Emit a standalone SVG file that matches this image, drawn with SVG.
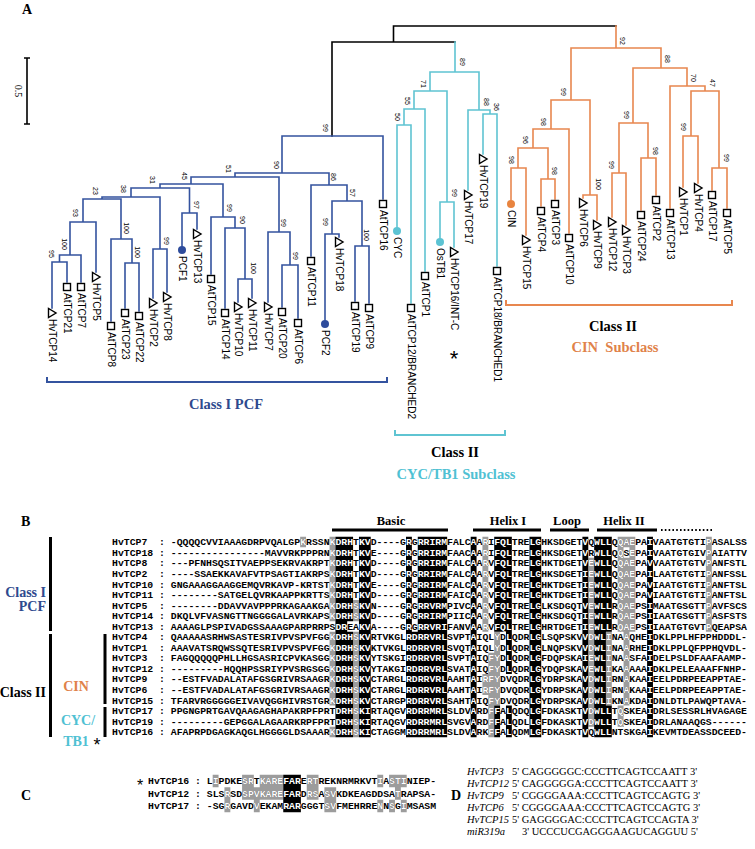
<svg xmlns="http://www.w3.org/2000/svg" width="755" height="849" viewBox="0 0 755 849">
<style>
.lf{font-family:"Liberation Sans",Arial,sans-serif;font-size:10px;fill:#000}
.bs{font-family:"Liberation Sans",Arial,sans-serif;font-size:7px;fill:#000;text-anchor:middle}
.pl{font-family:"Liberation Serif","Times New Roman",serif;font-weight:bold;font-size:14px;fill:#000}
.cl{font-family:"Liberation Serif","Times New Roman",serif;font-weight:bold;font-size:14.5px;text-anchor:middle}
.lb{font-family:"Liberation Serif","Times New Roman",serif;font-weight:bold;font-size:14px}
.seq{font-family:"Liberation Mono","Courier New",monospace;font-size:9.8px;font-weight:bold}
.hd{font-family:"Liberation Serif","Times New Roman",serif;font-weight:bold;font-size:12.5px;text-anchor:middle;fill:#000}
.dn{font-family:"Liberation Serif","Times New Roman",serif;font-style:italic;font-size:10.5px;fill:#000}
.ds{font-family:"Liberation Serif","Times New Roman",serif;font-size:10.5px;fill:#000}
.ast{font-family:"Liberation Sans",Arial,sans-serif;text-anchor:middle;fill:#000}
.bl{fill:none;stroke:#34539f;stroke-width:1.6;stroke-linecap:square}
.cy{fill:none;stroke:#5fc4d2;stroke-width:1.6;stroke-linecap:square}
.or{fill:none;stroke:#e8874f;stroke-width:1.6;stroke-linecap:square}
.bk{fill:none;stroke:#000;stroke-width:1.6;stroke-linecap:square}
.mk{fill:#fff;stroke:#000;stroke-width:1.4}
.blue{fill:#2e4c9c}.cyan{fill:#5cc3d3}.orng{fill:#e8843f}
</style>
<defs>
<polygon id="tri" points="-3.5,-4.5 -3.5,4.5 4,0"/>
<rect id="sq" x="-3.5" y="-3.5" width="7" height="7"/>
<clipPath id="cb">
<rect x="335.44" y="536.73" width="17.64" height="84.4"/>
<rect x="335.44" y="621.13" width="11.76" height="10.55"/>
<rect x="335.44" y="631.68" width="17.64" height="105.5"/>
<rect x="358.96" y="536.73" width="11.76" height="200.45"/>
<rect x="406" y="536.73" width="5.88" height="200.45"/>
<rect x="411.88" y="631.68" width="5.88" height="105.5"/>
<rect x="417.76" y="536.73" width="29.4" height="200.45"/>
<rect x="470.68" y="536.73" width="5.88" height="200.45"/>
<rect x="494.2" y="536.73" width="17.64" height="94.95"/>
<rect x="505.96" y="631.68" width="5.88" height="42.2"/>
<rect x="494.2" y="705.53" width="5.88" height="31.65"/>
<rect x="505.96" y="705.53" width="5.88" height="31.65"/>
<rect x="529.48" y="536.73" width="11.76" height="200.45"/>
<rect x="582.4" y="536.73" width="5.88" height="200.45"/>
<rect x="594.16" y="536.73" width="11.76" height="200.45"/>
<rect x="605.92" y="536.73" width="5.88" height="94.95"/>
<rect x="605.92" y="705.53" width="5.88" height="31.65"/>
<rect x="647.08" y="536.73" width="5.88" height="200.45"/>
<rect x="283.24" y="774.75" width="17.64" height="37.5"/>
</clipPath>
<clipPath id="cg">
<rect x="329.56" y="536.73" width="5.88" height="84.4"/>
<rect x="329.56" y="631.68" width="5.88" height="73.85"/>
<rect x="329.56" y="726.63" width="5.88" height="10.55"/>
<rect x="353.08" y="600.03" width="5.88" height="21.1"/>
<rect x="353.08" y="631.68" width="5.88" height="105.5"/>
<rect x="482.44" y="536.73" width="5.88" height="94.95"/>
<rect x="482.44" y="673.88" width="5.88" height="21.1"/>
<rect x="488.32" y="652.78" width="5.88" height="84.4"/>
<rect x="494.2" y="631.68" width="5.88" height="73.85"/>
<rect x="588.28" y="557.83" width="5.88" height="168.8"/>
<rect x="605.92" y="631.68" width="5.88" height="73.85"/>
<rect x="617.68" y="536.73" width="5.88" height="94.95"/>
<rect x="617.68" y="705.53" width="5.88" height="21.1"/>
<rect x="623.56" y="536.73" width="5.88" height="10.55"/>
<rect x="623.56" y="557.83" width="5.88" height="147.7"/>
<rect x="629.44" y="536.73" width="5.88" height="94.95"/>
<rect x="705.88" y="536.73" width="5.88" height="94.95"/>
<rect x="300.16" y="536.73" width="5.88" height="10.55"/>
<rect x="212.68" y="774.75" width="5.88" height="12.5"/>
<rect x="224.44" y="787.25" width="5.88" height="25"/>
<rect x="242.08" y="774.75" width="11.76" height="25"/>
<rect x="253.84" y="787.25" width="5.88" height="25"/>
<rect x="259.72" y="774.75" width="23.52" height="25"/>
<rect x="306.76" y="774.75" width="11.76" height="25"/>
<rect x="324.4" y="787.25" width="11.76" height="25"/>
<rect x="377.32" y="774.75" width="5.88" height="12.5"/>
<rect x="377.32" y="799.75" width="5.88" height="12.5"/>
<rect x="389.08" y="774.75" width="17.64" height="12.5"/>
<rect x="394.96" y="787.25" width="5.88" height="12.5"/>
<rect x="389.08" y="799.75" width="5.88" height="12.5"/>
<rect x="400.84" y="799.75" width="5.88" height="12.5"/>
</clipPath>
</defs>
<rect width="755" height="849" fill="#fff"/>

<!-- Panel A -->
<text class="pl" x="22" y="14" font-size="13">A</text>
<g id="scalebar">
<path d="M27 58V124 M24 58H30 M24 124H30" stroke="#000" stroke-width="1.6" fill="none"/>
<text transform="translate(18 91) rotate(90)" dy="3.5" text-anchor="middle" font-family="Liberation Serif, serif" font-size="10">0.5</text>
</g>

<g id="connectors">
<path class="bk" d="M332 136V42 M332 42H455 M393.5 42V26 M393.5 26H616"/>
<path class="bl" d="M282 136H383 M235 173H329 M191 177H279 M160 184H223 M131 188H189.5 M102 197H160 M83 199H121 M70 222H96 M59.5 255H81 M52 262H67 M111 239H132 M125 263H139 M153 249H167 M182 213H197 M211 217H235 M225 228H245 M238 279H252 M268 232H290 M282 265H298 M311 185H347 M332 201H362 M325 234H339 M355 246H369
M282 136V173 M383 136V199 M235 173V177 M329 173V185 M191 177V184 M279 177V232 M160 184V188 M223 184V217 M131 188V197 M189.5 188V213 M102 197V199 M160 197V249 M83 199V222 M121 199V239 M70 222V255 M96 222V272 M59.5 255V262 M81 255V282 M52 262V308 M67 262V282 M111 239V321 M132 239V263 M125 263V308 M139 263V311 M153 249V298 M167 249V292 M182 213V246 M197 213V229 M211 217V274 M235 217V228 M225 228V308 M245 228V279 M238 279V302 M252 279V298 M268 232V302 M290 232V265 M282 265V307 M298 265V318 M311 185V256 M347 185V201 M332 201V234 M362 201V246 M325 234V320 M339 234V237 M355 246V301 M369 246V303"/>
<path class="cy" d="M455 42V72 M430 72H479 M430 72V91 M414 91H447 M414 91V109 M404 109H425 M404 109V125 M397 125H411 M397 125V227 M411 125V303 M425 109V271 M447 91V202 M440 202H454 M440 202V238 M454 202V247 M479 72V110 M468 110H490 M468 110V190 M490 110V114 M483 114H497 M483 114V154 M497 114V266"/>
<path class="or" d="M616 26V48 M571 48H661 M571 48V100 M551 100H590 M551 100V129 M533 129H569 M533 129V148 M518 148H548 M518 148V168 M511 168H526 M511 168V200 M526 168V235 M548 148V179 M541 179H555 M541 179V206 M555 179V199 M569 129V233 M590 100V195 M583 195H597 M583 195V198 M597 195V220 M661 48V68 M633 68H687 M633 68V123 M619 123H648 M619 123V173 M612 173H626 M612 173V217 M626 173V225 M648 123V158 M641 158H656 M641 158V210 M656 158V195 M687 68V86 M670 86H705 M670 86V208 M705 86V91 M691 91H719 M691 91V136 M683 136H698 M683 136V187 M698 136V183 M719 91V168 M712 168H727 M712 168V190 M727 168V208"/>
</g>

<g id="bootstrap">
<text class="bs" dy="2.5" transform="translate(325 128) rotate(90)">99</text>
<text class="bs" dy="2.5" transform="translate(276 165) rotate(90)">90</text>
<text class="bs" dy="2.5" transform="translate(228 169) rotate(90)">51</text>
<text class="bs" dy="2.5" transform="translate(184 176) rotate(90)">45</text>
<text class="bs" dy="2.5" transform="translate(152 180) rotate(90)">31</text>
<text class="bs" dy="2.5" transform="translate(123 189) rotate(90)">38</text>
<text class="bs" dy="2.5" transform="translate(95 191) rotate(90)">23</text>
<text class="bs" dy="2.5" transform="translate(75 213) rotate(90)">93</text>
<text class="bs" dy="2.5" transform="translate(64 244) rotate(90)">100</text>
<text class="bs" dy="2.5" transform="translate(51 254) rotate(90)">95</text>
<text class="bs" dy="2.5" transform="translate(126 228) rotate(90)">100</text>
<text class="bs" dy="2.5" transform="translate(137 252) rotate(90)">100</text>
<text class="bs" dy="2.5" transform="translate(166 241) rotate(90)">99</text>
<text class="bs" dy="2.5" transform="translate(196 205) rotate(90)">97</text>
<text class="bs" dy="2.5" transform="translate(229 208) rotate(90)">99</text>
<text class="bs" dy="2.5" transform="translate(242 220) rotate(90)">90</text>
<text class="bs" dy="2.5" transform="translate(253 268) rotate(90)">100</text>
<text class="bs" dy="2.5" transform="translate(283 223) rotate(90)">99</text>
<text class="bs" dy="2.5" transform="translate(295 256) rotate(90)">99</text>
<text class="bs" dy="2.5" transform="translate(333 177) rotate(90)">86</text>
<text class="bs" dy="2.5" transform="translate(352 193) rotate(90)">57</text>
<text class="bs" dy="2.5" transform="translate(325 222) rotate(90)">99</text>
<text class="bs" dy="2.5" transform="translate(366 235) rotate(90)">100</text>
<text class="bs" dy="2.5" transform="translate(462 62) rotate(90)">89</text>
<text class="bs" dy="2.5" transform="translate(423 84) rotate(90)">71</text>
<text class="bs" dy="2.5" transform="translate(407 101) rotate(90)">55</text>
<text class="bs" dy="2.5" transform="translate(397 117) rotate(90)">50</text>
<text class="bs" dy="2.5" transform="translate(454 193) rotate(90)">99</text>
<text class="bs" dy="2.5" transform="translate(486 102) rotate(90)">88</text>
<text class="bs" dy="2.5" transform="translate(496 107) rotate(90)">36</text>
<text class="bs" dy="2.5" transform="translate(622 41) rotate(90)">92</text>
<text class="bs" dy="2.5" transform="translate(563 92) rotate(90)">99</text>
<text class="bs" dy="2.5" transform="translate(543 122) rotate(90)">98</text>
<text class="bs" dy="2.5" transform="translate(525 140) rotate(90)">96</text>
<text class="bs" dy="2.5" transform="translate(511 160) rotate(90)">98</text>
<text class="bs" dy="2.5" transform="translate(554 171) rotate(90)">98</text>
<text class="bs" dy="2.5" transform="translate(598 184) rotate(90)">100</text>
<text class="bs" dy="2.5" transform="translate(667 59) rotate(90)">88</text>
<text class="bs" dy="2.5" transform="translate(626 115) rotate(90)">99</text>
<text class="bs" dy="2.5" transform="translate(611 165) rotate(90)">99</text>
<text class="bs" dy="2.5" transform="translate(655 151) rotate(90)">98</text>
<text class="bs" dy="2.5" transform="translate(693 78) rotate(90)">70</text>
<text class="bs" dy="2.5" transform="translate(712 83) rotate(90)">47</text>
<text class="bs" dy="2.5" transform="translate(683 127) rotate(90)">99</text>
<text class="bs" dy="2.5" transform="translate(726 158) rotate(90)">99</text>
</g>

<g id="leaves">
<g id="n-HvTCP14"><use href="#tri" class="mk" x="52" y="313"/><text class="lf" dy="3.5" transform="translate(52 319) rotate(90)">HvTCP14</text></g>
<g id="n-AtTCP21"><use href="#sq" class="mk" x="67" y="287"/><text class="lf" dy="3.5" transform="translate(67 293) rotate(90)">AtTCP21</text></g>
<g id="n-AtTCP7"><use href="#sq" class="mk" x="81" y="287"/><text class="lf" dy="3.5" transform="translate(81 293) rotate(90)">AtTCP7</text></g>
<g id="n-HvTCP5"><use href="#tri" class="mk" x="96" y="277"/><text class="lf" dy="3.5" transform="translate(96 283) rotate(90)">HvTCP5</text></g>
<g id="n-AtTCP8"><use href="#sq" class="mk" x="111" y="326"/><text class="lf" dy="3.5" transform="translate(111 332) rotate(90)">AtTCP8</text></g>
<g id="n-AtTCP23"><use href="#sq" class="mk" x="125" y="313"/><text class="lf" dy="3.5" transform="translate(125 319) rotate(90)">AtTCP23</text></g>
<g id="n-AtTCP22"><use href="#sq" class="mk" x="139" y="316"/><text class="lf" dy="3.5" transform="translate(139 322) rotate(90)">AtTCP22</text></g>
<g id="n-HvTCP2"><use href="#tri" class="mk" x="153" y="303"/><text class="lf" dy="3.5" transform="translate(153 309) rotate(90)">HvTCP2</text></g>
<g id="n-HvTCP8"><use href="#tri" class="mk" x="167" y="297"/><text class="lf" dy="3.5" transform="translate(167 303) rotate(90)">HvTCP8</text></g>
<g id="n-PCF1"><circle class="blue" cx="182" cy="250" r="4"/><text class="lf" dy="3.5" transform="translate(182 256) rotate(90)">PCF1</text></g>
<g id="n-HvTCP13"><use href="#tri" class="mk" x="197" y="234"/><text class="lf" dy="3.5" transform="translate(197 240) rotate(90)">HvTCP13</text></g>
<g id="n-AtTCP15"><use href="#sq" class="mk" x="211" y="279"/><text class="lf" dy="3.5" transform="translate(211 285) rotate(90)">AtTCP15</text></g>
<g id="n-AtTCP14"><use href="#sq" class="mk" x="225" y="313"/><text class="lf" dy="3.5" transform="translate(225 319) rotate(90)">AtTCP14</text></g>
<g id="n-HvTCP10"><use href="#tri" class="mk" x="238" y="307"/><text class="lf" dy="3.5" transform="translate(238 313) rotate(90)">HvTCP10</text></g>
<g id="n-HvTCP11"><use href="#tri" class="mk" x="252" y="303"/><text class="lf" dy="3.5" transform="translate(252 309) rotate(90)">HvTCP11</text></g>
<g id="n-HvTCP7"><use href="#tri" class="mk" x="268" y="307"/><text class="lf" dy="3.5" transform="translate(268 313) rotate(90)">HvTCP7</text></g>
<g id="n-AtTCP20"><use href="#sq" class="mk" x="282" y="312"/><text class="lf" dy="3.5" transform="translate(282 318) rotate(90)">AtTCP20</text></g>
<g id="n-AtTCP6"><use href="#sq" class="mk" x="298" y="323"/><text class="lf" dy="3.5" transform="translate(298 329) rotate(90)">AtTCP6</text></g>
<g id="n-AtTCP11"><use href="#sq" class="mk" x="311" y="261"/><text class="lf" dy="3.5" transform="translate(311 267) rotate(90)">AtTCP11</text></g>
<g id="n-PCF2"><circle class="blue" cx="325" cy="324" r="4"/><text class="lf" dy="3.5" transform="translate(325 330) rotate(90)">PCF2</text></g>
<g id="n-HvTCP18"><use href="#tri" class="mk" x="339" y="242"/><text class="lf" dy="3.5" transform="translate(339 248) rotate(90)">HvTCP18</text></g>
<g id="n-AtTCP19"><use href="#sq" class="mk" x="355" y="306"/><text class="lf" dy="3.5" transform="translate(355 312) rotate(90)">AtTCP19</text></g>
<g id="n-AtTCP9"><use href="#sq" class="mk" x="369" y="308"/><text class="lf" dy="3.5" transform="translate(369 314) rotate(90)">AtTCP9</text></g>
<g id="n-AtTCP16"><use href="#sq" class="mk" x="383" y="204"/><text class="lf" dy="3.5" transform="translate(383 210) rotate(90)">AtTCP16</text></g>
<g id="n-CYC"><circle class="cyan" cx="397" cy="231" r="4"/><text class="lf" dy="3.5" transform="translate(397 237) rotate(90)">CYC</text></g>
<g id="n-AtTCP12"><use href="#sq" class="mk" x="411" y="308"/><text class="lf" dy="3.5" transform="translate(411 314) rotate(90)">AtTCP12/BRANCHED2</text></g>
<g id="n-AtTCP1"><use href="#sq" class="mk" x="425" y="276"/><text class="lf" dy="3.5" transform="translate(425 282) rotate(90)">AtTCP1</text></g>
<g id="n-OsTB1"><circle class="cyan" cx="440" cy="242" r="4"/><text class="lf" dy="3.5" transform="translate(440 248) rotate(90)">OsTB1</text></g>
<g id="n-HvTCP16"><use href="#tri" class="mk" x="454" y="252"/><text class="lf" dy="3.5" transform="translate(454 258) rotate(90)">HvTCP16/INT-C</text><text class="ast" x="454" y="366" font-size="22">*</text></g>
<g id="n-HvTCP17"><use href="#tri" class="mk" x="468" y="195"/><text class="lf" dy="3.5" transform="translate(468 201) rotate(90)">HvTCP17</text></g>
<g id="n-HvTCP19"><use href="#tri" class="mk" x="483" y="159"/><text class="lf" dy="3.5" transform="translate(483 165) rotate(90)">HvTCP19</text></g>
<g id="n-AtTCP18"><use href="#sq" class="mk" x="497" y="271"/><text class="lf" dy="3.5" transform="translate(497 277) rotate(90)">AtTCP18/BRANCHED1</text></g>
<g id="n-CIN"><circle class="orng" cx="511" cy="204" r="4"/><text class="lf" dy="3.5" transform="translate(511 210) rotate(90)">CIN</text></g>
<g id="n-HvTCP15"><use href="#tri" class="mk" x="526" y="240"/><text class="lf" dy="3.5" transform="translate(526 246) rotate(90)">HvTCP15</text></g>
<g id="n-AtTCP4"><use href="#sq" class="mk" x="541" y="211"/><text class="lf" dy="3.5" transform="translate(541 217) rotate(90)">AtTCP4</text></g>
<g id="n-AtTCP3"><use href="#sq" class="mk" x="555" y="204"/><text class="lf" dy="3.5" transform="translate(555 210) rotate(90)">AtTCP3</text></g>
<g id="n-AtTCP10"><use href="#sq" class="mk" x="569" y="238"/><text class="lf" dy="3.5" transform="translate(569 244) rotate(90)">AtTCP10</text></g>
<g id="n-HvTCP6"><use href="#tri" class="mk" x="583" y="203"/><text class="lf" dy="3.5" transform="translate(583 209) rotate(90)">HvTCP6</text></g>
<g id="n-HvTCP9"><use href="#tri" class="mk" x="597" y="225"/><text class="lf" dy="3.5" transform="translate(597 231) rotate(90)">HvTCP9</text></g>
<g id="n-HvTCP12"><use href="#tri" class="mk" x="612" y="222"/><text class="lf" dy="3.5" transform="translate(612 228) rotate(90)">HvTCP12</text></g>
<g id="n-HvTCP3"><use href="#tri" class="mk" x="626" y="230"/><text class="lf" dy="3.5" transform="translate(626 236) rotate(90)">HvTCP3</text></g>
<g id="n-AtTCP24"><use href="#sq" class="mk" x="641" y="215"/><text class="lf" dy="3.5" transform="translate(641 221) rotate(90)">AtTCP24</text></g>
<g id="n-AtTCP2"><use href="#sq" class="mk" x="656" y="200"/><text class="lf" dy="3.5" transform="translate(656 206) rotate(90)">AtTCP2</text></g>
<g id="n-AtTCP13"><use href="#sq" class="mk" x="670" y="213"/><text class="lf" dy="3.5" transform="translate(670 219) rotate(90)">AtTCP13</text></g>
<g id="n-HvTCP1"><use href="#tri" class="mk" x="683" y="192"/><text class="lf" dy="3.5" transform="translate(683 198) rotate(90)">HvTCP1</text></g>
<g id="n-HvTCP4"><use href="#tri" class="mk" x="698" y="188"/><text class="lf" dy="3.5" transform="translate(698 194) rotate(90)">HvTCP4</text></g>
<g id="n-AtTCP17"><use href="#sq" class="mk" x="712" y="195"/><text class="lf" dy="3.5" transform="translate(712 201) rotate(90)">AtTCP17</text></g>
<g id="n-AtTCP5"><use href="#sq" class="mk" x="727" y="213"/><text class="lf" dy="3.5" transform="translate(727 219) rotate(90)">AtTCP5</text></g>
</g>

<g id="brackets">
<path d="M47 377V382H387V377" fill="none" stroke="#34539f" stroke-width="2"/>
<text class="cl" x="226" y="409" fill="#2e4a8e">Class I PCF</text>
<path d="M395 430V435H505V430" fill="none" stroke="#5fc4d2" stroke-width="2"/>
<text class="cl" x="455" y="457" fill="#000">Class II</text>
<text class="cl" x="456" y="479" fill="#4fc1d3">CYC/TB1 Subclass</text>
<path d="M506 300V305H732V300" fill="none" stroke="#e8874f" stroke-width="2"/>
<text class="cl" x="613" y="331" fill="#000">Class II</text>
<text class="cl" x="615" y="352" fill="#e0824a" xml:space="preserve">CIN  Subclass</text>
</g>

<!-- Panel B -->
<text class="pl" x="21" y="526">B</text>
<g id="headers">
<text class="hd" x="391" y="525">Basic</text>
<text class="hd" x="508" y="525">Helix I</text>
<text class="hd" x="567" y="525">Loop</text>
<text class="hd" x="624" y="525">Helix II</text>
<path d="M332 530H448 M473 530H541 M550 530H589 M597 530H657" stroke="#000" stroke-width="3" fill="none"/>
<path d="M661 530H712" stroke="#000" stroke-width="1.8" stroke-dasharray="1.6 2.2" fill="none"/>
</g>
<g id="groups">
<path d="M50.5 537V631 M50.5 634V737 M105 634V704 M105 707V737" stroke="#000" stroke-width="3" fill="none"/>
<text class="lb" x="46" y="597" text-anchor="end" fill="#2e4a8e">Class I</text>
<text class="lb" x="46" y="611" text-anchor="end" fill="#2e4a8e">PCF</text>
<text class="lb" x="46" y="697" text-anchor="end" fill="#000">Class II</text>
<text class="lb" x="76" y="691" text-anchor="middle" fill="#e0824a">CIN</text>
<text class="lb" x="78" y="725" text-anchor="middle" fill="#4fc1d3">CYC/</text>
<text class="lb" x="76" y="746" text-anchor="middle" fill="#4fc1d3">TB1</text>
<text class="ast" x="97" y="751" font-size="18">*</text>
</g>

<rect x="100" y="530" width="655" height="290" fill="#9c9c9c" clip-path="url(#cg)"/>
<rect x="100" y="530" width="655" height="290" fill="#000" clip-path="url(#cb)"/>
<g fill="#000">
<g id="seqs" class="seq">
<text x="112" y="545.3">HvTCP7</text><text x="159.04" y="545.3">: -QQQQCVVIAAAGDRPVQALGPKRSSNKDRHTKVD----GRGRRIRMFALCAARIFQLTRELGHKSDGETVQWLLQQAEPAIVAATGTGTIPASALSS</text>
<text x="112" y="555.85">HvTCP18</text><text x="159.04" y="555.85">: ----------------MAVVRKPPPRNKDRHTKVE----GRGRRIRMFAACAARIFQLTRELGHKSDGETVRWLLQQSEPAIVAATGTGIVPAIATTV</text>
<text x="112" y="566.4">HvTCP8</text><text x="159.04" y="566.4">: ---PFNHSQSITVAEPPSEKRVAKRPTKDRHTKVD----GRGRRIRMFALCAARVFQLTRELGHKTDGETVEWLLQQAEPAVVAATGTGTVPANFSTL</text>
<text x="112" y="576.95">HvTCP2</text><text x="159.04" y="576.95">: ----SSAEKKAVAFVTPSAGTIAKRPSKDRHTKVD----GRGRRIRMFALCAARVFQLTRELGHKSDGETIEWLLQQAEPAILAATGTGTIPANFSSL</text>
<text x="112" y="587.5">HvTCP10</text><text x="159.04" y="587.5">: GNGAAAGGAAGGEMQVRKAVP-KRTSTKDRHTKVE----GRGRRIRMFALCAARVFQLTRELGHKTDGETIEWLLQQAEPAVIAATGTGTIPANFTSL</text>
<text x="112" y="598.05">HvTCP11</text><text x="159.04" y="598.05">: --------SATGELQVRKAAPPKRTTSKDRHTKVD----GRGRRIRMFAICAARVFQLTRELGHKTDGETIEWLLQQAEPAVIAATGTGTIPANFTSL</text>
<text x="112" y="608.6">HvTCP5</text><text x="159.04" y="608.6">: --------DDAVVAVPPPRKAGAAKGAKDRHSKVN----GRGRRVRMPIVCAARVFQLTRELGLKSDGQTVEWLLRQAEPSIMAATGSGTTPAVFSCS</text>
<text x="112" y="619.15">HvTCP14</text><text x="159.04" y="619.15">: DKQLVFVASNGTTNGGGGALAVRKAPSKDRHSKVD----GRGRRIRMPIICAARVFQLTRELGHKSDGQTIEWLLRQAEPSIIAATGSGTTPASFSTS</text>
<text x="112" y="629.7">HvTCP13</text><text x="159.04" y="629.7">: AAAAGLPSPIVADGSSAAAGPARPRRPSDREAKVA----GRGRRVRIFANVAARVFQLTRELGHRTDGETIEWLLRQAEPSIIAATGTGVTPQEAPSA</text>
<text x="112" y="640.25">HvTCP4</text><text x="159.04" y="640.25">: QAAAAASRHWSASTESRIVPVSPVFGGKDRHSKVRTVKGLRDRRVRLSVPTAIQLYDLQDRLGLSQPSKVVDWLINAAQHEIDKLPPLHFPPHDDDL-</text>
<text x="112" y="650.8">HvTCP1</text><text x="159.04" y="650.8">: AAAVATSRQWSSQTESRIVPVSPVFGGKDRHSKVKTVKGLRDRRVRLSVQTAIQLYDLQDRLGLNQPSKVVDWLINAARHEIDKLPPLQFPPHQVDL-</text>
<text x="112" y="661.35">HvTCP3</text><text x="159.04" y="661.35">: FAGQQQQQPHLLHGSASRICPVKASGGKDRHSKVYTSKGIRDRRVRLSVPTAIQFYDLQDRLGFDQPSKAIEWLINAASFAIDELPSLDFAAFAAMP-</text>
<text x="112" y="671.9">HvTCP12</text><text x="159.04" y="671.9">: ---------HQQHPSSRIYPVSRGSGGKDRHSKVYTAKGIRDRRVRLSVATAIQFYDLQDRLGYDQPSKAVEWLIKAAAAAIDKLPELEAAAFFNHP-</text>
<text x="112" y="682.45">HvTCP9</text><text x="159.04" y="682.45">: --ESTFVADALATAFGSGRIVRSAAGRKDRHSKVCTARGLRDRRVRLAAHTAIRFYDVQDRLGYDRPSKAVDWLIRNAKAAIEELPDRPEEAPPTAE-</text>
<text x="112" y="693">HvTCP6</text><text x="159.04" y="693">: --ESTFVADALATAFGSGRIVRSAAGRKDRHSKVCTARGLRDRRVRLAAHTAIRFYDVQDRLGYDRPSKAVDWLIRNAKAAIEELPDRPEEAPPTAE-</text>
<text x="112" y="703.55">HvTCP15</text><text x="159.04" y="703.55">: TFARVRGGGGGEIVAVQGGHIVRSTGRKDRHSKVCTARGPRDRRVRLSAHTAIQFYDVQDRLGYDRPSKAVDWLIKNAKDAIDNLDTLPAWQPTAVA-</text>
<text x="112" y="714.1">HvTCP17</text><text x="159.04" y="714.1">: PPGNGPRTGAVQAAGAGHAPAKRPFPRTDRHSKIRTAQGVRDRRMRLSLDVARDFFALQDQLGFDKASKTVDWLLTQSKEAIDRLSESSRLHVAGAGE</text>
<text x="112" y="724.65">HvTCP19</text><text x="159.04" y="724.65">: ---------GEPGGALAGAARKRPFPRTDRHSKIRTAQGVRDRRMRLSVGVARDFFALQDLLGFDKASKTVDWLLTQSKEAIDRLANAAQGS------</text>
<text x="112" y="735.2">HvTCP16</text><text x="159.04" y="735.2">: AFAPRPDGAGKAQGLHGGGGLDSAAARKDRHSKICTAGGMRDRRMRLSLDVARKFFALQDMLGFDKASKTVQWLLNTSKGAIKEVMTDEASSDCEED-</text>
<text x="148" y="784.3">HvTCP16</text><text x="195.04" y="784.3">: LIPDKESRTKAREFARERTREKNRMRKVTIASTINIEP-</text>
<text x="148" y="796.8">HvTCP12</text><text x="195.04" y="796.8">: SLSRSDSPVKAREFARDRSASVKDKEAGDDSATRAPSA-</text>
<text x="148" y="809.3">HvTCP17</text><text x="195.04" y="809.3">: -SGRGAVDVEKAMRARGGGTSVFMEHRRENNSGIMSASM</text>
</g>
</g>
<use href="#seqs" fill="#fff" clip-path="url(#cb)"/>
<use href="#seqs" fill="#fff" clip-path="url(#cg)"/>

<!-- Panel C -->
<text class="pl" x="21" y="800">C</text>
<text class="ast" x="140" y="791" font-size="16">*</text>

<!-- Panel D -->
<text class="pl" x="451" y="800">D</text>
<g id="targets">
<text class="dn" x="467" y="775.2">HvTCP3</text><text class="ds" x="512" y="775.2">5' CAGGGGGC:CCCTTCAGTCCAATT 3'</text>
<text class="dn" x="467" y="787.2">HvTCP12</text><text class="ds" x="512" y="787.2">5' CAGGGGGA:CCCTTCAGTCCAATT 3'</text>
<text class="dn" x="467" y="799.2">HvTCP9</text><text class="ds" x="512" y="799.2">5' CGGGGAAA:CCCTTCAGTCCAGTG 3'</text>
<text class="dn" x="467" y="811.2">HvTCP6</text><text class="ds" x="512" y="811.2">5' CGGGGAAA:CCCTTCAGTCCAGTG 3'</text>
<text class="dn" x="467" y="823.2">HvTCP15</text><text class="ds" x="512" y="823.2">5' GAGGGGAC:CCCTTCAGTCCAGTA 3'</text>
<text class="dn" x="467" y="835.2">miR319a</text><text class="ds" x="522" y="835.2">3' UCCCUCGAGGGAAGUCAGGUU 5'</text>
</g>
</svg>
